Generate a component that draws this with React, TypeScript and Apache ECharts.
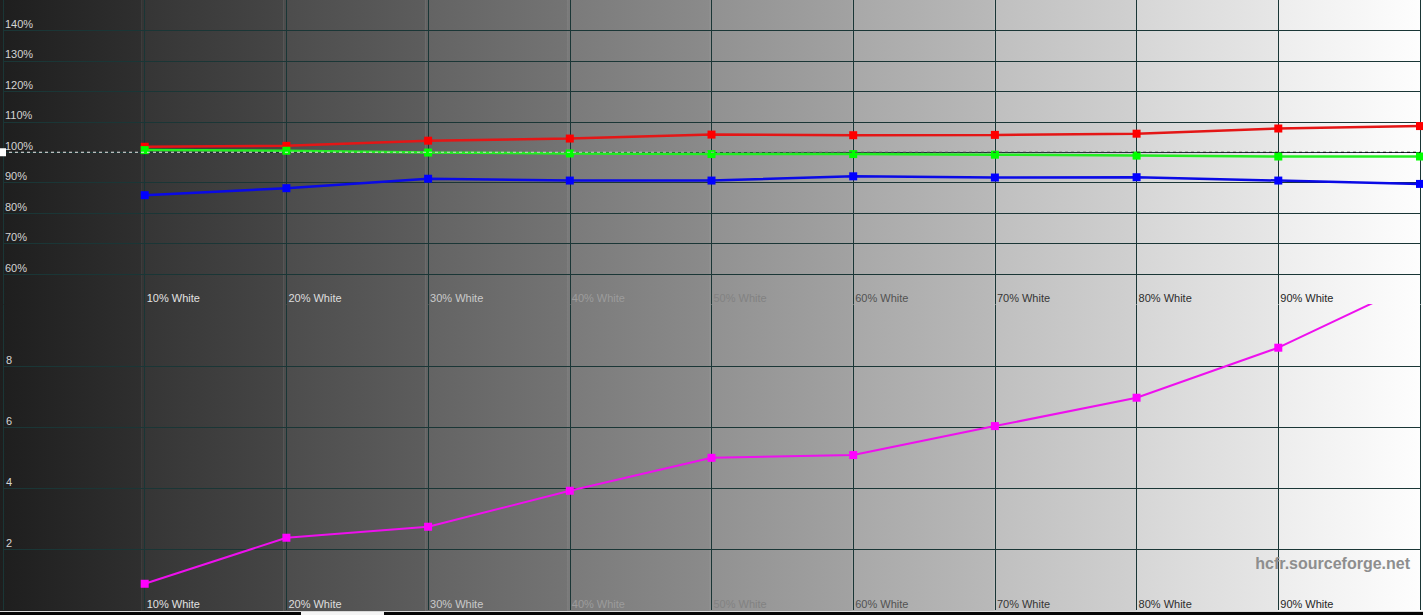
import React, { useEffect, useRef } from "react";
import * as echarts from "echarts";

// ---- data ----
const levels = [10, 20, 30, 40, 50, 60, 70, 80, 90, 100];
const redPct = [101.8, 102.1, 103.8, 104.5, 105.8, 105.6, 105.7, 106.1, 107.8, 108.6];
const greenPct = [100.7, 100.5, 99.9, 99.6, 99.4, 99.4, 99.2, 98.9, 98.6, 98.6];
const bluePct = [85.9, 88.2, 91.3, 90.7, 90.7, 92.1, 91.7, 91.8, 90.7, 89.6];
const deltaE = [0.86, 2.37, 2.73, 3.91, 4.99, 5.08, 6.03, 6.96, 8.6, 10.8];
const referenceLevel = 100;
const balanceRange = [50, 150];
const deltaRange = [0, 10];
const watermark = "hcfr.sourceforge.net";

// ---- style ----
const W = 1423;
const H = 615;
const FONT = '"Liberation Sans", Arial, sans-serif';
const GRID_COLOR = "#1a3636";
const labelColors: Record<number, string> = {
  10: "#e2e2e2",
  20: "#dedede",
  30: "#cacaca",
  40: "#9c9c9c",
  50: "#828282",
  60: "#525252",
  70: "#363636",
  80: "#2e2e2e",
  90: "#262626",
};

const xLeft = 1;
const xWidth = 1421;

function bandGraphics() {
  const out: any[] = [];
  const step = xWidth / 10;
  for (let i = 0; i < 10; i++) {
    const x0 = i === 0 ? 0 : xLeft + step * i - 2;
    const x1 = i === 9 ? W : xLeft + step * (i + 1) - 2;
    const l = 30 + 23 * i;
    const r = Math.min(255, l + 17);
    const c = (v: number) => `rgb(${v},${v},${v})`;
    out.push({
      type: "rect",
      z: -10,
      silent: true,
      shape: { x: x0, y: 0, width: x1 - x0 + 0.5, height: H },
      style: {
        fill: new echarts.graphic.LinearGradient(0, 0, 1, 0, [
          { offset: 0, color: c(l) },
          { offset: 1, color: c(r) },
        ]),
      },
    });
  }
  return out;
}

export default function App() {
  const ref = useRef<HTMLDivElement>(null);

  useEffect(() => {
    document.body.style.margin = "0";
    document.body.style.overflow = "hidden";
    if (!ref.current) return;
    const chart = echarts.init(ref.current, undefined, { renderer: "svg" });

    const xAxisBase = (gridIndex: number) => ({
      type: "value",
      gridIndex,
      min: 0,
      max: 100,
      interval: 10,
      axisLine: { show: false },
      axisTick: { show: false },
      splitLine: { show: true, lineStyle: { color: GRID_COLOR, width: 1 } },
      axisLabel: {
        inside: true,
        margin: 1,
        align: "left",
        verticalAlign: "bottom",
        padding: [0, 0, 0, 2],
        fontSize: 11,
        fontFamily: FONT,
        formatter: (v: number) => (v > 0 && v < 100 ? `${v}% White` : ""),
        color: (v: any) => labelColors[Number(v)] || "#cccccc",
      },
    });

    const toPts = (arr: number[]) => levels.map((l, i) => [l, arr[i]]);

    const rgbSeries = (name: string, vals: number[], line: string, mark: string, z: number) => ({
      name,
      type: "line",
      xAxisIndex: 0,
      yAxisIndex: 0,
      data: toPts(vals),
      symbol: "rect",
      symbolSize: 8,
      showAllSymbol: true,
      lineStyle: { color: line, width: 2.5 },
      itemStyle: { color: mark },
      z,
    });

    chart.setOption({
      animation: false,
      backgroundColor: "transparent",
      grid: [
        { left: xLeft, width: xWidth, top: -1.5, height: 306, containLabel: false },
        { left: xLeft, width: xWidth, top: 305, height: 305, containLabel: false },
      ],
      xAxis: [xAxisBase(0), xAxisBase(1)],
      yAxis: [
        {
          type: "value",
          gridIndex: 0,
          min: balanceRange[0],
          max: balanceRange[1],
          interval: 10,
          axisLine: { show: false },
          axisTick: { show: false },
          splitLine: { show: true, showMinLine: false, showMaxLine: false, lineStyle: { color: GRID_COLOR, width: 1 } },
          axisLabel: {
            inside: true,
            margin: 2,
            align: "left",
            verticalAlign: "bottom",
            padding: [0, 0, 1, 0],
            fontSize: 11,
            fontFamily: FONT,
            color: "#d4d4d4",
            formatter: (v: number) => (v > balanceRange[0] && v < balanceRange[1] ? `${v}%` : ""),
          },
        },
        {
          type: "value",
          gridIndex: 1,
          min: deltaRange[0],
          max: deltaRange[1],
          interval: 2,
          axisLine: { show: false },
          axisTick: { show: false },
          splitLine: { show: true, showMinLine: false, showMaxLine: false, lineStyle: { color: GRID_COLOR, width: 1 } },
          axisLabel: {
            inside: true,
            margin: 3,
            align: "left",
            verticalAlign: "bottom",
            padding: [0, 0, 1, 0],
            fontSize: 11,
            fontFamily: FONT,
            color: "#d4d4d4",
            formatter: (v: number) => (v > deltaRange[0] && v < deltaRange[1] ? `${v}` : ""),
          },
        },
      ],
      graphic: [
        ...bandGraphics(),
        {
          type: "text",
          z: 50,
          silent: true,
          x: 1410,
          y: 563,
          style: {
            text: watermark,
            fill: "#8e8e8e",
            font: `bold 16px ${FONT}`,
            align: "right",
            verticalAlign: "middle",
          },
        },
        { type: "rect", z: 100, silent: true, shape: { x: 0, y: 611, width: W, height: 1 }, style: { fill: "#d8d8d8" } },
        { type: "rect", z: 100, silent: true, shape: { x: 0, y: 612, width: W, height: 3 }, style: { fill: "#050505" } },
        { type: "rect", z: 101, silent: true, shape: { x: 301, y: 612, width: 83, height: 3 }, style: { fill: "#f4f4f4" } },
      ],
      series: [
        rgbSeries("Red", redPct, "#e41616", "#ff0000", 3),
        rgbSeries("Blue", bluePct, "#0a0ae6", "#0000ff", 3),
        rgbSeries("Green", greenPct, "#22ee22", "#00ff00", 4),
        {
          name: "Reference",
          type: "line",
          xAxisIndex: 0,
          yAxisIndex: 0,
          data: [
            { value: [0, referenceLevel], symbol: "rect", symbolSize: [6, 8] },
            { value: [100, referenceLevel], symbol: "none" },
          ],
          lineStyle: {
            width: 1,
            type: [3, 3],
            color: new echarts.graphic.LinearGradient(
              0,
              0,
              W,
              0,
              [
                { offset: 0, color: "#f0f0f0" },
                { offset: 0.45, color: "#c8c8c8" },
                { offset: 0.6, color: "#505050" },
                { offset: 1, color: "#000000" },
              ],
              true
            ),
          },
          itemStyle: { color: "#ffffff" },
          z: 6,
        },
        {
          name: "DeltaE",
          type: "line",
          xAxisIndex: 1,
          yAxisIndex: 1,
          data: toPts(deltaE),
          symbol: "rect",
          symbolSize: 8,
          lineStyle: { color: "#ee10ee", width: 2 },
          itemStyle: { color: "#ff00ff" },
          z: 3,
        },
      ],
    });

    return () => chart.dispose();
  }, []);

  return <div ref={ref} style={{ width: W, height: H }} />;
}
